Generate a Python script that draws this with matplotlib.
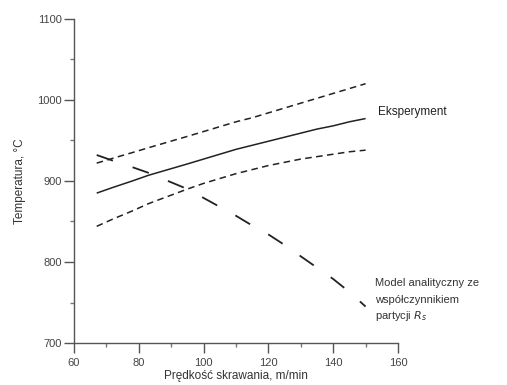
import matplotlib
matplotlib.use('Agg')
import matplotlib.pyplot as plt
import numpy as np

# Data
speed = [67, 72, 78, 83, 89, 95, 100, 105, 110, 115, 120, 125, 130, 135, 140, 145, 150]
exp_mean = [885, 892, 900, 907, 914, 921, 927, 933, 939, 944, 949, 954, 959, 964, 968, 973, 977]
exp_upper = [922, 928, 935, 941, 948, 955, 961, 967, 973, 978, 984, 990, 996, 1002, 1008, 1014, 1020]
exp_lower = [844, 853, 863, 872, 881, 890, 897, 903, 909, 914, 919, 923, 927, 930, 933, 936, 938]
model = [932, 925, 917, 910, 900, 890, 879, 868, 857, 845, 834, 821, 807, 793, 779, 763, 745]

xticks = [60, 80, 100, 120, 140, 160]
yticks = [700, 800, 900, 1000, 1100]
model_label = ['Model analityczny ze', 'współczynnikiem', 'partycji $R_s$']

plt.rcParams['font.family'] = ['Liberation Sans', 'DejaVu Sans']

fig = plt.figure(figsize=(5.07, 3.85), dpi=100)
ax = fig.add_axes([0.146, 0.109, 0.639, 0.842])

ax.plot(speed, exp_mean, color='#222222', lw=1.1, solid_capstyle='butt')
ax.plot(speed, exp_upper, color='#222222', lw=1.1, dashes=(4.3, 2.9))
ax.plot(speed, exp_lower, color='#222222', lw=1.1, dashes=(4.3, 2.9))
ax.plot(speed, model, color='#222222', lw=1.3, dashes=(9.5, 11.5))

ax.set_xlim(60, 160)
ax.set_ylim(700, 1100)
ax.set_xticks(xticks)
ax.set_yticks(yticks)
ax.set_xticks(np.arange(70, 160, 20), minor=True)
ax.set_yticks(np.arange(750, 1100, 100), minor=True)

for s in ['top', 'right']:
    ax.spines[s].set_visible(False)
for s in ['left', 'bottom']:
    ax.spines[s].set_color('#555555')
    ax.spines[s].set_linewidth(1.0)

ax.tick_params(which='major', direction='out', length=7, width=1.0,
               color='#555555', labelsize=8, labelcolor='#444444')
ax.tick_params(axis='x', which='major', pad=4)
ax.tick_params(axis='y', which='major', pad=2)
ax.tick_params(which='minor', direction='out', length=3, width=1.0, color='#777777')

ax.set_xlabel('Prędkość skrawania, m/min', fontsize=8.5, color='#333333', labelpad=1)
ax.set_ylabel('Temperatura, °C', fontsize=8.5, color='#333333', labelpad=8)

ax.text(153.8, 985, 'Eksperyment', fontsize=8.5, color='#222222',
        va='center', ha='left', clip_on=False)
for i, line in enumerate(model_label):
    ax.text(152.9, 774 - 20.5 * i, line, fontsize=8, color='#333333',
            va='center', ha='left', clip_on=False)

fig.savefig('out.png', dpi=100)
